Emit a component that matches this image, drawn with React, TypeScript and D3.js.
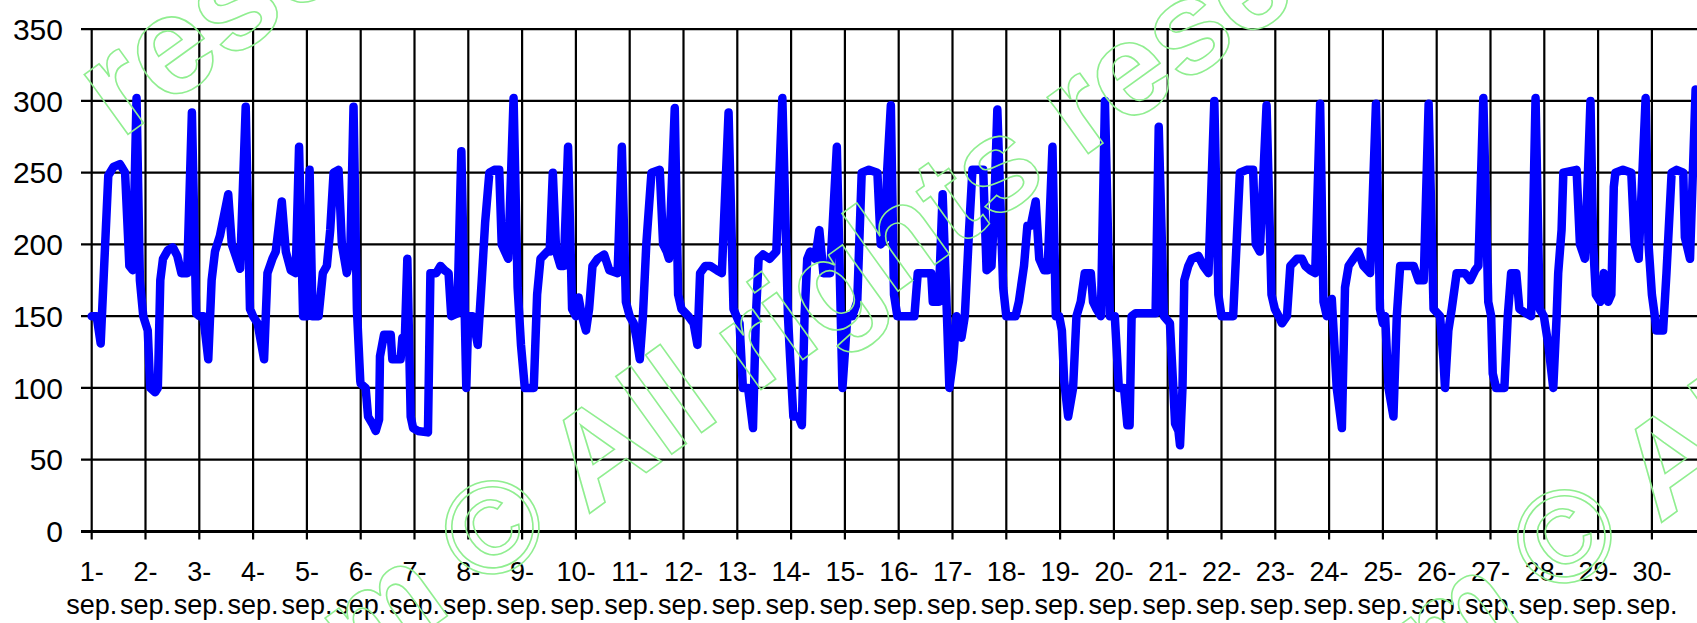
import React from "react";
import * as d3 from "d3";

const W = 1697;
const H = 623;

// x-axis categories (days of September)
const dayNumbers = [1, 2, 3, 4, 5, 6, 7, 8, 9, 10, 11, 12, 13, 14, 15, 16, 17, 18, 19, 20, 21, 22, 23, 24, 25, 26, 27, 28, 29, 30];
const monthLabel = "sep.";
const yTicks = [0, 50, 100, 150, 200, 250, 300, 350];

// readings per day: [hour of day, value]
const day01: [number, number][] = [[0,150],[2.2,150],[4,131],[6,200],[7.4,248],[9.7,254],[12.6,256],[14.9,250],[16.8,185],[18.3,182],[20,302],[21.5,175],[23,150]];
const day02: [number, number][] = [[1,140],[2.1,100],[4.3,97],[5.5,100],[6.6,175],[7.8,190],[10,196],[12.2,198],[14.2,192],[16,180],[18.6,180],[20.7,292],[22.6,152]];
const day03: [number, number][] = [[0,150],[1.8,150],[4,120],[5.5,175],[7,195],[9.2,206],[12.9,235],[14.5,200],[15.6,195],[18.2,183],[20.7,296],[22.6,155]];
const day04: [number, number][] = [[0,150],[2,145],[4.9,120],[6.4,180],[8.6,190],[10.1,195],[12.8,230],[14.6,195],[16.8,182],[19,180],[20.5,268],[22.3,150]];
const day05: [number, number][] = [[0,150],[1.2,252],[2.5,150],[5.2,150],[7.1,180],[8.9,185],[10.4,210],[11.9,250],[14.1,252],[15.6,200],[17.8,180],[19.3,190],[20.8,296],[22.3,155],[23.8,105]];
const day06: [number, number][] = [[0,103],[2.2,100],[3.3,80],[5.2,75],[6.7,70],[8.2,78],[8.6,122],[10.4,137],[13.4,137],[14.1,120],[17.8,120],[18.6,135],[19.6,130],[20.8,190],[22.3,80],[23.4,72]];
const day07: [number, number][] = [[1.5,70],[6,69],[7.1,180],[9.7,180],[11.6,185],[13.4,182],[15.2,180],[16.4,150],[19.1,152],[20.9,265],[23.1,100]];
const day08: [number, number][] = [[0,150],[1.9,150],[4.2,130],[6,175],[7.5,215],[9.4,250],[11.6,252],[13.8,252],[14.9,200],[17.8,190],[20.2,302],[22,170],[23.5,130]];
const day09: [number, number][] = [[1.2,100],[5.2,100],[6.7,165],[8.2,190],[11.2,195],[12.3,195],[13.7,250],[15.2,195],[17.1,185],[18.6,185],[20.5,268],[22.3,155]];
const day10: [number, number][] = [[0,150],[1.2,163],[2.7,150],[4.5,140],[5.9,155],[7.4,185],[9.7,190],[12.6,193],[14.9,182],[18.6,180],[20.5,268],[22.3,160]];
const day11: [number, number][] = [[0,150],[1.8,145],[3,135],[4.5,120],[5.9,150],[7.4,200],[9.7,250],[13.4,252],[14.9,200],[16.5,195],[17.5,190],[20.1,295],[21.6,165],[23.1,155]];
const day12: [number, number][] = [[2.2,150],[4.5,145],[6.2,130],[7.4,180],[9.7,185],[11.9,185],[14.9,182],[17.1,180],[20.1,292],[22.3,155]];
const day13: [number, number][] = [[1,145],[2.5,100],[4.8,100],[7,72],[8.3,150],[9.5,190],[11.5,193],[14.4,190],[17.4,195],[20.1,302],[22.6,150],[23.6,120]];
const day14: [number, number][] = [[1,80],[3.3,80],[4.8,74],[6,150],[7.2,190],[8.5,195],[10.7,190],[12.6,210],[14.4,180],[17.4,180],[20.4,268],[22.9,100]];
const day15: [number, number][] = [[1.1,150],[3.3,150],[5.5,160],[7.5,250],[10.7,252],[14.5,250],[16,200],[18.2,205],[18.8,250],[20.5,297],[21.9,165],[23.4,150]];
const day16: [number, number][] = [[0.3,150],[1.8,150],[7,150],[8.5,180],[14.5,180],[15.2,160],[17.8,160],[19.6,235],[21.1,170],[22.6,100]];
const day17: [number, number][] = [[0.3,120],[1.8,150],[4,135],[5.5,150],[7.4,210],[8.9,252],[13.7,252],[15.2,182],[17.4,185],[18.5,220],[20,294],[22.6,170]];
const day18: [number, number][] = [[0,150],[1.9,150],[4.1,150],[5.6,160],[7.9,185],[9.4,213],[10.9,213],[13.1,230],[14.7,190],[16.9,182],[18.4,182],[20.6,268],[22.1,150],[23.6,150]];
const day19: [number, number][] = [[0.8,140],[1.8,105],[3.6,80],[5.8,100],[7.3,150],[9.2,160],[11,180],[13.7,180],[14.7,160],[16.2,155],[18.2,150],[20,300],[22.2,150]];
const day20: [number, number][] = [[0.4,150],[2.2,100],[4.5,100],[6,74],[7,74],[7.9,150],[9.7,152],[18.6,152],[20,282],[22.3,150]];
const day21: [number, number][] = [[1,145],[2.5,100],[3.3,75],[4.8,70],[5.5,60],[6.6,100],[7.4,175],[9.2,185],[10.7,190],[13.7,192],[15.9,185],[18.2,180],[20.8,300],[22.6,165]];
const day22: [number, number][] = [[0,150],[2.2,150],[5.2,150],[6.7,200],[8.2,250],[11.2,252],[14.1,252],[15.3,200],[17.1,195],[20.1,297],[22.3,165],[23.8,155]];
const day23: [number, number][] = [[1.5,150],[3,145],[5.2,150],[6.7,185],[9.7,190],[11.9,190],[13.4,185],[15.6,182],[17.8,180],[20,298],[21.5,160],[23,150]];
const day24: [number, number][] = [[1.2,162],[2,140],[3.4,100],[5.7,72],[7.1,170],[8.7,185],[10.9,190],[13.1,195],[15.3,185],[18.3,180],[20.9,298],[22.7,155]];
const day25: [number, number][] = [[0,145],[1,150],[2.5,100],[4.7,80],[6.2,150],[7.7,185],[10,185],[13.7,185],[15.9,175],[18.2,175],[20.4,298],[22.6,155]];
const day26: [number, number][] = [[1.5,150],[3,120],[3.7,100],[5.2,140],[6.7,155],[8.9,180],[12.6,180],[14.9,175],[17.1,182],[18.6,185],[20.8,302],[23,160]];
const day27: [number, number][] = [[0.3,150],[1,110],[2.5,100],[6.2,100],[7.7,150],[9.2,180],[11.5,180],[12.9,155],[15.9,152],[18.1,150],[20.1,302],[21.9,155],[23.8,150]];
const day28: [number, number][] = [[1.8,130],[4,100],[5.5,150],[6.2,180],[7.7,210],[8.5,250],[14.4,252],[15.9,200],[18.1,190],[20.6,300],[21.8,200],[23,165]];
const day29: [number, number][] = [[1,160],[2.5,180],[4.5,160],[5.9,165],[7,240],[7.7,250],[11.1,252],[14.8,250],[16.3,200],[18.1,190],[21.2,302],[22.5,200]];
const day30: [number, number][] = [[0,165],[1.3,150],[2,140],[5,140],[6.5,180],[8.8,250],[11,252],[14,250],[14.7,205],[17,190],[19.5,308]];

const dailyReadings = [day01, day02, day03, day04, day05, day06, day07, day08, day09, day10, day11, day12, day13, day14, day15, day16, day17, day18, day19, day20, day21, day22, day23, day24, day25, day26, day27, day28, day29, day30];

const watermarkText = ["com", "\u00A9", "All rights reserved", "reserved"];

export default function App() {
  const plotLeft = 91.7;
  const dayWidth = 53.8;
  const x = d3.scaleLinear().domain([0, 30 * 24]).range([plotLeft, plotLeft + 30 * dayWidth]);
  const y = d3.scaleLinear().domain([0, 350]).range([531.4, 29.2]);

  const points: [number, number][] = dailyReadings.flatMap((day, i) =>
    day.map(([h, v]) => [i * 24 + h, v] as [number, number])
  );
  const line = d3
    .line<[number, number]>()
    .x((d) => x(d[0]))
    .y((d) => y(d[1]));

  const gridDays = d3.range(0, 31);
  const font = "'Liberation Sans', Arial, sans-serif";
  const wmSize = 132;
  const wmStroke = "#90EE90";

  const wmCenters: [number, number][] = [
    [492, 527],
    [1564, 536],
  ];

  return (
    <svg
      width={W}
      height={H}
      viewBox={`0 0 ${W} ${H}`}
      style={{ position: "absolute", left: 0, top: 0, background: "#fff" }}
    >
      <rect x={0} y={0} width={W} height={H} fill="#fff" />
      {/* horizontal grid */}
      {yTicks.map((t) => (
        <line
          key={"h" + t}
          x1={81}
          x2={W}
          y1={y(t)}
          y2={y(t)}
          stroke="#000"
          strokeWidth={t === 0 ? 3 : 2.2}
        />
      ))}
      {/* vertical grid */}
      {gridDays.map((d) => (
        <line
          key={"v" + d}
          x1={x(d * 24)}
          x2={x(d * 24)}
          y1={y(350)}
          y2={y(0) + 8}
          stroke="#000"
          strokeWidth={2.2}
        />
      ))}
      {/* y labels */}
      {yTicks.map((t) => (
        <text
          key={"yl" + t}
          x={63}
          y={y(t)}
          dy="0.36em"
          textAnchor="end"
          fontFamily={font}
          fontSize={30}
          fill="#000"
        >
          {t}
        </text>
      ))}
      {/* x labels */}
      {dayNumbers.map((d, i) => (
        <g key={"xl" + d}>
          <text x={x(i * 24)} y={581} textAnchor="middle" fontFamily={font} fontSize={27} fill="#000">
            {d + "-"}
          </text>
          <text x={x(i * 24)} y={614} textAnchor="middle" fontFamily={font} fontSize={27} fill="#000">
            {monthLabel}
          </text>
        </g>
      ))}
      {/* data line */}
      <path
        d={line(points) || ""}
        fill="none"
        stroke="#0000FF"
        strokeWidth={8.5}
        strokeLinejoin="round"
        strokeLinecap="round"
      />
      {/* watermark */}
      {wmCenters.map(([cx, cy], i) => (
        <g key={"wm" + i} transform={`translate(${cx},${cy}) rotate(-35.8)`}>
          <text x={-80} y={46} textAnchor="end" fontFamily={font} fontWeight="bold" fontSize={wmSize} fill="none" stroke={wmStroke} strokeWidth={1.6}>
            {watermarkText[0]}
          </text>
          <text x={0} y={46} textAnchor="middle" fontFamily={font} fontSize={wmSize} fill="none" stroke={wmStroke} strokeWidth={1.6}>
            {watermarkText[1]}
          </text>
          <text x={84} y={46} textAnchor="start" fontFamily={font} fontWeight="bold" fontSize={wmSize} fill="none" stroke={wmStroke} strokeWidth={1.6}>
            {watermarkText[2]}
          </text>
        </g>
      ))}
      <g transform="translate(120,140) rotate(-35.8)">
        <text x={0} y={0} textAnchor="start" fontFamily={font} fontWeight="bold" fontSize={wmSize + 8} fill="none" stroke={wmStroke} strokeWidth={1.6}>
          {watermarkText[3]}
        </text>
      </g>
    </svg>
  );
}
